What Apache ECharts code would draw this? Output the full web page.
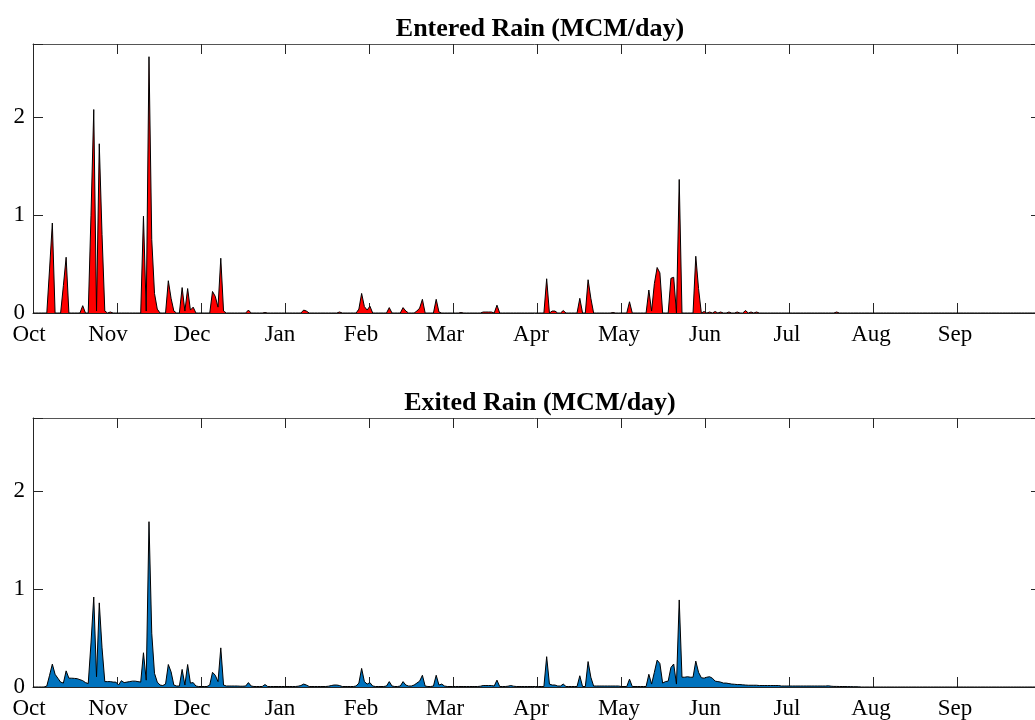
<!DOCTYPE html>
<html>
<head>
<meta charset="utf-8">
<script src="https://cdn.jsdelivr.net/npm/echarts@6/dist/echarts.min.js"></script>
<style>
  html, body { margin: 0; padding: 0; background: #fff; }
  #main { width: 1035px; height: 720px; }
</style>
</head>
<body>
<div id="main"></div>
<script>
// water year, one value per day (day 0 = 1 Oct)
const monthLabels = ['Oct', 'Nov', 'Dec', 'Jan', 'Feb', 'Mar', 'Apr', 'May', 'Jun', 'Jul', 'Aug', 'Sep']
const yTicks = [0, 1, 2]
const nDays = 365

// entered rain, only the days with rain: [day, MCM/day]
const enteredRain = [
  [5, 0], [6, 0.45], [7, 0.92], [11, 0.28], [12, 0.57], [18, 0.075],
  [21, 1.0], [22, 2.08], [23, 0.02], [24, 1.73], [25, 0.8], [26, 0.02], [28, 0.01],
  [40, 0.99], [41, 0.02], [42, 2.62], [43, 0.75], [44, 0.2], [45, 0.04],
  [49, 0.33], [50, 0.15], [51, 0.02], [54, 0.26], [55, 0.02], [56, 0.25], [57, 0.03], [58, 0.06],
  [65, 0.22], [66, 0.17], [67, 0.06], [68, 0.56], [69, 0.02], [78, 0.03], [84, 0.005],
  [98, 0.03], [99, 0.02], [111, 0.01],
  [118, 0.04], [119, 0.2], [120, 0.065], [121, 0.03], [122, 0.07],
  [129, 0.055], [134, 0.055], [135, 0.02], [139, 0.02], [140, 0.05], [141, 0.14],
  [146, 0.14], [147, 0.01], [155, 0.005],
  [163, 0.01], [164, 0.01], [165, 0.01], [166, 0.01], [168, 0.08],
  [186, 0.35], [188, 0.02], [189, 0.02], [192, 0.025],
  [198, 0.15], [201, 0.34], [202, 0.15], [210, 0.005], [216, 0.115],
  [223, 0.235], [224, 0.02], [225, 0.3], [226, 0.465], [227, 0.41],
  [231, 0.355], [232, 0.365], [234, 1.365], [240, 0.58], [241, 0.25],
  [243, 0.015], [245, 0.01], [247, 0.015], [249, 0.01], [252, 0.01], [255, 0.01],
  [258, 0.025], [260, 0.01], [262, 0.01], [291, 0.01]
]

// exited rain, every day from day 0 (days after the list are 0)
const exitedRain = [
  0, 0, 0, 0, 0, 0.01, 0.12, 0.234, 0.13, 0.09,
  0.05, 0.04, 0.165, 0.09, 0.09, 0.088, 0.085, 0.075, 0.065, 0.045,
  0.035, 0.45, 0.92, 0.105, 0.86, 0.4, 0.055, 0.055, 0.055, 0.05,
  0.05, 0.02, 0.065, 0.045, 0.05, 0.055, 0.06, 0.06, 0.055, 0.05,
  0.35, 0.07, 1.69, 0.55, 0.14, 0.05, 0.02, 0.015, 0.03, 0.23,
  0.155, 0.02, 0.01, 0.01, 0.18, 0.02, 0.23, 0.04, 0.045, 0.01,
  0.005, 0.005, 0.005, 0.005, 0.02, 0.15, 0.12, 0.055, 0.40, 0.02,
  0.01, 0.01, 0.01, 0.01, 0.01, 0.008, 0.008, 0.01, 0.045, 0.01,
  0.005, 0.005, 0.005, 0.005, 0.025, 0.005, 0.005, 0.005, 0.005, 0.005,
  0.005, 0.005, 0.005, 0.005, 0.005, 0.005, 0.008, 0.015, 0.03, 0.02,
  0.005, 0.005, 0.005, 0.005, 0.005, 0.005, 0.005, 0.008, 0.015, 0.02,
  0.02, 0.015, 0.005, 0.005, 0.005, 0.005, 0.005, 0.01, 0.04, 0.19,
  0.055, 0.03, 0.045, 0.01, 0.005, 0.005, 0.005, 0.005, 0.01, 0.055,
  0.01, 0.005, 0.005, 0.01, 0.055, 0.02, 0.01, 0.01, 0.02, 0.04,
  0.06, 0.12, 0.01, 0.005, 0.005, 0.01, 0.12, 0.02, 0.03, 0.01,
  0.005, 0.005, 0.005, 0.005, 0.005, 0.005, 0.005, 0.005, 0.005, 0.005,
  0.005, 0.005, 0.008, 0.015, 0.015, 0.015, 0.015, 0.01, 0.07, 0.005,
  0.005, 0.005, 0.008, 0.015, 0.008, 0.005, 0.005, 0.005, 0.005, 0.005,
  0.005, 0.005, 0.005, 0.005, 0.005, 0.005, 0.31, 0.03, 0.02, 0.02,
  0.01, 0.01, 0.03, 0.005, 0.005, 0.005, 0.005, 0.005, 0.115, 0.005,
  0.005, 0.26, 0.1, 0.01, 0.01, 0.01, 0.01, 0.01, 0.01, 0.01,
  0.01, 0.01, 0.01, 0.005, 0.005, 0.005, 0.08, 0.005, 0.005, 0.005,
  0.005, 0.005, 0.005, 0.13, 0.03, 0.15, 0.275, 0.24, 0.04, 0.055,
  0.06, 0.2, 0.235, 0.03, 0.89, 0.1, 0.1, 0.105, 0.1, 0.1,
  0.265, 0.15, 0.095, 0.09, 0.1, 0.105, 0.09, 0.06, 0.055, 0.05,
  0.04, 0.04, 0.035, 0.03, 0.028, 0.025, 0.025, 0.022, 0.02, 0.018,
  0.018, 0.018, 0.018, 0.015, 0.015, 0.015, 0.015, 0.015, 0.015, 0.015,
  0.015, 0.01, 0.01, 0.01, 0.01, 0.01, 0.01, 0.01, 0.01, 0.01,
  0.01, 0.01, 0.01, 0.01, 0.01, 0.01, 0.01, 0.01, 0.012, 0.008,
  0.006, 0.006, 0.005, 0.005, 0.005, 0.004, 0.004, 0.003, 0.003, 0.002
]

// build [day, value] series for the whole year
const enteredFull = new Array(nDays).fill(0)
enteredRain.forEach(p => { enteredFull[p[0]] = p[1] })
const enteredData = enteredFull.map((v, i) => [i, v])
const exitedData = []
for (let i = 0; i < nDays; i++) exitedData.push([i, exitedRain[i] || 0])

const monthStep = nDays / 12
const axisColor = '#262626'
const font = "'Liberation Serif', 'Times New Roman', serif"

// month names sit a bit left of their ticks in the original (px)
const labelShift = [4, 9, 9, 5, 8, 8, 6, 2, 0, 2, 2, 2]
const monthRich = {}
labelShift.forEach((s, k) => {
  monthRich['m' + k] = {fontFamily: font, fontSize: 23, color: '#000', padding: [0, 2 * s, 0, 0]}
})

const makeX = (gridIndex, top) => ({
  type: 'value',
  gridIndex: gridIndex,
  position: top ? 'top' : 'bottom',
  min: 0,
  max: nDays,
  interval: monthStep,
  axisLine: {onZero: false, lineStyle: {color: top ? '#555' : axisColor, width: 1}},
  axisTick: {show: true, inside: true, length: 10, lineStyle: {color: axisColor, width: 1}},
  axisLabel: {
    show: !top,
    margin: 10,
    color: '#000',
    fontFamily: font,
    fontSize: 23,
    formatter: v => {
      const k = Math.round(v / monthStep)
      return k < 12 ? '{m' + k + '|' + monthLabels[k] + '}' : ''
    },
    rich: monthRich
  },
  splitLine: {show: false}
})

const makeY = (gridIndex, right) => ({
  type: 'value',
  gridIndex: gridIndex,
  position: right ? 'right' : 'left',
  min: 0,
  max: 2.75,
  interval: 1,
  axisLine: {show: true, onZero: false, lineStyle: {color: axisColor, width: 1}},
  axisTick: {show: true, inside: true, length: 10, lineStyle: {color: axisColor, width: 1}},
  axisLabel: {
    show: !right,
    margin: 8,
    color: '#000',
    fontFamily: font,
    fontSize: 23,
    formatter: v => yTicks.indexOf(v) >= 0 ? String(v) : ''
  },
  splitLine: {show: false}
})

const makeSeries = (name, idx, data, fill) => ({
  name: name,
  type: 'line',
  xAxisIndex: idx * 2,
  yAxisIndex: idx * 2,
  data: data,
  showSymbol: false,
  smooth: false,
  lineStyle: {color: '#000', width: 1},
  areaStyle: {color: fill, opacity: 1},
  silent: true
})

let myChart = echarts.init(document.getElementById('main'))
myChart.setOption({
  animation: false,
  backgroundColor: '#fff',
  title: [
    {text: 'Entered Rain (MCM/day)', left: 535, top: 11, textAlign: 'center',
      textStyle: {fontFamily: font, fontSize: 26, fontWeight: 'bold', color: '#000'}},
    {text: 'Exited Rain (MCM/day)', left: 535, top: 385, textAlign: 'center',
      textStyle: {fontFamily: font, fontSize: 26, fontWeight: 'bold', color: '#000'}}
  ],
  grid: [
    {left: 33, top: 44, width: 1008, height: 269, outerBoundsMode: 'none'},
    {left: 33, top: 418, width: 1008, height: 269, outerBoundsMode: 'none'}
  ],
  xAxis: [makeX(0, false), makeX(0, true), makeX(1, false), makeX(1, true)],
  yAxis: [makeY(0, false), makeY(0, true), makeY(1, false), makeY(1, true)],
  series: [
    makeSeries('Entered Rain', 0, enteredData, '#ff0000'),
    makeSeries('Exited Rain', 1, exitedData, '#0072bd')
  ]
})
</script>
</body>
</html>
